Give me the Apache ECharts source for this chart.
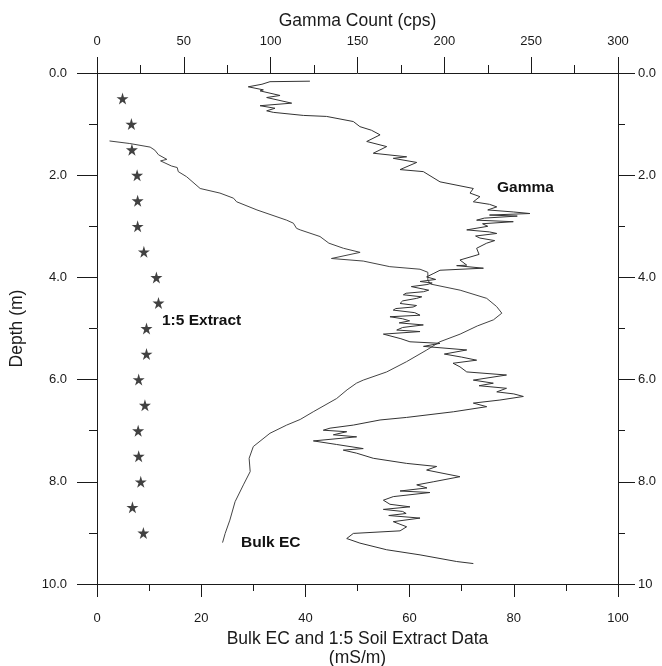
<!DOCTYPE html>
<html>
<head>
<meta charset="utf-8">
<script src="https://cdn.jsdelivr.net/npm/echarts@6/dist/echarts.min.js"></script>
<style>
  html, body { margin: 0; padding: 0; background: #fff; }
  #chart-container { width: 662px; height: 666px; }
</style>
</head>
<body>
<div id="chart-container"></div>
<script>
'use strict';

// Gamma log (top axis, cps) against depth (m)
const gammaDepth = [
    0.16, 0.17, 0.22, 0.27, 0.33, 0.35, 0.44, 0.48, 0.59, 0.64, 0.69, 0.74, 0.77,
    0.83, 0.85, 0.95, 1.05, 1.12, 1.21, 1.34, 1.44, 1.57, 1.64, 1.67, 1.75, 1.89,
    1.93, 2.13, 2.26, 2.35, 2.42, 2.52, 2.57, 2.62, 2.68, 2.72, 2.75, 2.78, 2.80,
    2.84, 2.88, 2.91, 2.95, 3.00, 3.07, 3.11, 3.14, 3.19, 3.23, 3.28, 3.33, 3.43,
    3.55, 3.66, 3.76, 3.77, 3.82, 3.86, 3.92, 3.99, 4.04, 4.08, 4.11, 4.14, 4.18,
    4.21, 4.25, 4.28, 4.31, 4.34, 4.38, 4.41, 4.46, 4.51, 4.55, 4.58, 4.61, 4.64,
    4.69, 4.74, 4.77, 4.81, 4.85, 4.89, 4.93, 4.98, 5.03, 5.06, 5.11, 5.20, 5.26,
    5.29, 5.35, 5.42, 5.50, 5.56, 5.62, 5.68, 5.75, 5.85, 5.91, 6.01, 6.07, 6.12,
    6.17, 6.24, 6.28, 6.33, 6.40, 6.46, 6.53, 6.63, 6.74, 6.79, 6.89, 6.95, 6.99,
    7.02, 7.08, 7.12, 7.20, 7.27, 7.35, 7.38, 7.44, 7.54, 7.64, 7.70, 7.77, 7.90,
    8.00, 8.06, 8.12, 8.18, 8.21, 8.29, 8.36, 8.44, 8.49, 8.54, 8.58, 8.62, 8.66,
    8.71, 8.78, 8.88, 8.96, 9.01, 9.11, 9.20, 9.33, 9.43, 9.56, 9.60
];
const gammaCount = [
    122.6, 99.6, 95, 87.1, 95.8, 93.9, 105.4, 97.7, 112.1, 93.9, 102.5, 97.7, 101.5,
    118.8, 132.2, 147.6, 151.4, 158, 163, 155.3, 166.8, 159.1, 178.3, 170.6, 184.1, 174.5,
    187.9, 197.5, 216.7, 214.8, 220.5, 216.7, 226, 230.2, 225, 240, 249.3, 226, 242,
    223, 218.6, 239.7, 222, 225, 212.9, 226, 230.2, 218, 220.5, 229, 224.4, 218.6,
    220, 209, 212.9, 207.1, 222.5, 197.5, 194, 189.8, 195, 186, 193, 190, 181,
    182.1, 191, 188, 178, 176.4, 187, 184.1, 176, 174.5, 184, 182, 172, 170.6,
    183, 186, 168.7, 176, 180, 174, 187.9, 176, 172.6, 186, 164.9, 175, 180.2,
    197.5, 188, 212.9, 200, 210, 218.6, 205, 209, 212.9, 235.8, 216.7, 228.2, 220,
    235.8, 230.2, 240, 245.5, 232, 216.7, 224.4, 205.2, 178.3, 163, 147.6, 134.2, 130.3,
    143.8, 136.1, 149.5, 124.6, 138, 153.3, 141.8, 149.5, 159.1, 178.3, 195.6, 189.8, 209,
    193.6, 184.1, 190, 174.5, 191.7, 170.6, 164.9, 168.7, 180.2, 164.9, 176, 178, 168,
    186, 170.6, 178.3, 174.5, 147.6, 143.8, 151.4, 166.8, 186, 207.1, 216.7
];

// Bulk EC (bottom axis, mS/m) against depth (m)
const bulkDepth = [
    1.33, 1.38, 1.45, 1.51, 1.60, 1.69, 1.72, 1.82, 1.85, 1.93, 2.03, 2.26, 2.35,
    2.45, 2.52, 2.68, 2.88, 2.94, 3.04, 3.07, 3.20, 3.33, 3.43, 3.51, 3.63, 3.68,
    3.79, 3.84, 3.90, 4.05, 4.13, 4.25, 4.41, 4.57, 4.70, 4.83, 4.95, 5.11, 5.26,
    5.42, 5.65, 5.85, 6.01, 6.07, 6.20, 6.37, 6.63, 6.78, 6.89, 7.05, 7.31, 7.54,
    7.80, 8.06, 8.39, 8.75, 9.01, 9.19
];
const bulkEC = [
    2.4, 6.3, 10.2, 11.1, 11.8, 13.4, 12.2, 14.3, 15.4, 15.6, 17.2, 19.8, 23.6,
    26.2, 26.8, 30.7, 36.4, 37.7, 38.3, 39, 42.8, 44.5, 47.3, 50.5, 45, 51.1,
    56.2, 62, 63.5, 63.5, 64, 69.7, 74.8, 76.7, 77.7, 76.1, 73, 69.7, 65.8,
    63.3, 59.4, 55.6, 51.1, 49.8, 48, 46, 41.5, 39, 36.4, 33.2, 30, 29.2,
    29.4, 28.1, 26.5, 25.5, 24.6, 24.1
];

// 1:5 soil extract samples
const extractDepth = [0.5, 1.0, 1.5, 2.0, 2.5, 3.0, 3.5, 4.0, 4.5, 5.0, 5.5, 6.0, 6.5, 7.0, 7.5, 8.0, 8.5, 9.0];
const extractEC = [4.9, 6.6, 6.7, 7.7, 7.8, 7.8, 9.0, 11.4, 11.8, 9.5, 9.5, 8.0, 9.2, 7.9, 8.0, 8.4, 6.8, 8.9];

const FONT = 'Liberation Sans, Arial, sans-serif';
const INK = '#1a1a1a';
const STAR = 'path://M50,0 L61,35 L98,35 L68,57 L79,91 L50,70 L21,91 L32,57 L2,35 L39,35 Z';

const pair = (xs, ys) => xs.map((x, i) => [x, ys[i]]);

const myChart = echarts.init(document.getElementById('chart-container'), null, { renderer: 'canvas' });

const axisLine = { show: true, onZero: false, lineStyle: { color: INK, width: 1 } };
const tickLabel = { color: INK, fontFamily: FONT, fontSize: 13 };
const nameStyle = { color: INK, fontFamily: FONT, fontSize: 17.5 };

const option = {
    backgroundColor: '#fff',
    animation: false,
    grid: { left: 97, right: 44, top: 73, bottom: 82, outerBoundsMode: 'none', containLabel: false },
    xAxis: [
        {
            type: 'value', position: 'bottom', min: 0, max: 100, interval: 20,
            axisLine: axisLine,
            axisTick: { show: true, length: 13, lineStyle: { color: INK } },
            minorTick: { show: true, splitNumber: 2, length: 7, lineStyle: { color: INK } },
            splitLine: { show: false },
            axisLabel: Object.assign({ margin: 28 }, tickLabel),
            name: 'Bulk EC and 1:5 Soil Extract Data\n(mS/m)',
            nameLocation: 'middle', nameGap: 45,
            nameTextStyle: Object.assign({ lineHeight: 19 }, nameStyle)
        },
        {
            type: 'value', position: 'top', min: 0, max: 300, interval: 50,
            axisLine: axisLine,
            axisTick: { show: true, length: 16, lineStyle: { color: INK } },
            minorTick: { show: true, splitNumber: 2, length: 8, lineStyle: { color: INK } },
            splitLine: { show: false },
            axisLabel: Object.assign({ margin: 25 }, tickLabel),
            name: 'Gamma Count (cps)',
            nameLocation: 'middle', nameGap: 42,
            nameTextStyle: nameStyle
        }
    ],
    yAxis: [
        {
            type: 'value', position: 'left', inverse: true, min: 0, max: 10, interval: 2,
            axisLine: axisLine,
            axisTick: { show: true, length: 20, lineStyle: { color: INK } },
            minorTick: { show: true, splitNumber: 2, length: 8, lineStyle: { color: INK } },
            splitLine: { show: false },
            axisLabel: Object.assign({ margin: 30, formatter: (v) => v.toFixed(1) }, tickLabel),
            name: 'Depth (m)',
            nameLocation: 'middle', nameGap: 71, nameRotate: 90,
            nameTextStyle: nameStyle
        },
        {
            type: 'value', position: 'right', inverse: true, min: 0, max: 10, interval: 2,
            axisLine: axisLine,
            axisTick: { show: true, length: 17, lineStyle: { color: INK } },
            minorTick: { show: true, splitNumber: 2, length: 7, lineStyle: { color: INK } },
            splitLine: { show: false },
            axisLabel: Object.assign({ margin: 20, formatter: (v) => (v === 10 ? '10' : v.toFixed(1)) }, tickLabel)
        }
    ],
    series: [
        {
            name: 'Bulk EC', type: 'line', xAxisIndex: 0, yAxisIndex: 0,
            data: pair(bulkEC, bulkDepth),
            showSymbol: false, symbol: 'none',
            lineStyle: { color: '#444', width: 1 }
        },
        {
            name: 'Gamma', type: 'line', xAxisIndex: 1, yAxisIndex: 0,
            data: pair(gammaCount, gammaDepth),
            showSymbol: false, symbol: 'none',
            lineStyle: { color: '#333', width: 1 }
        },
        {
            name: '1:5 Extract', type: 'scatter', xAxisIndex: 0, yAxisIndex: 0,
            data: pair(extractEC, extractDepth),
            symbol: STAR, symbolSize: 12,
            itemStyle: { color: '#111' }
        }
    ],
    graphic: [
        { type: 'text', left: 497, top: 180, style: { text: 'Gamma', font: 'bold 15.5px ' + FONT, fill: '#111' } },
        { type: 'text', left: 162, top: 313, style: { text: '1:5 Extract', font: 'bold 15.5px ' + FONT, fill: '#111' } },
        { type: 'text', left: 241, top: 535, style: { text: 'Bulk EC', font: 'bold 15.5px ' + FONT, fill: '#111' } }
    ]
};

myChart.setOption(option);
window.addEventListener('resize', myChart.resize);
</script>
</body>
</html>
